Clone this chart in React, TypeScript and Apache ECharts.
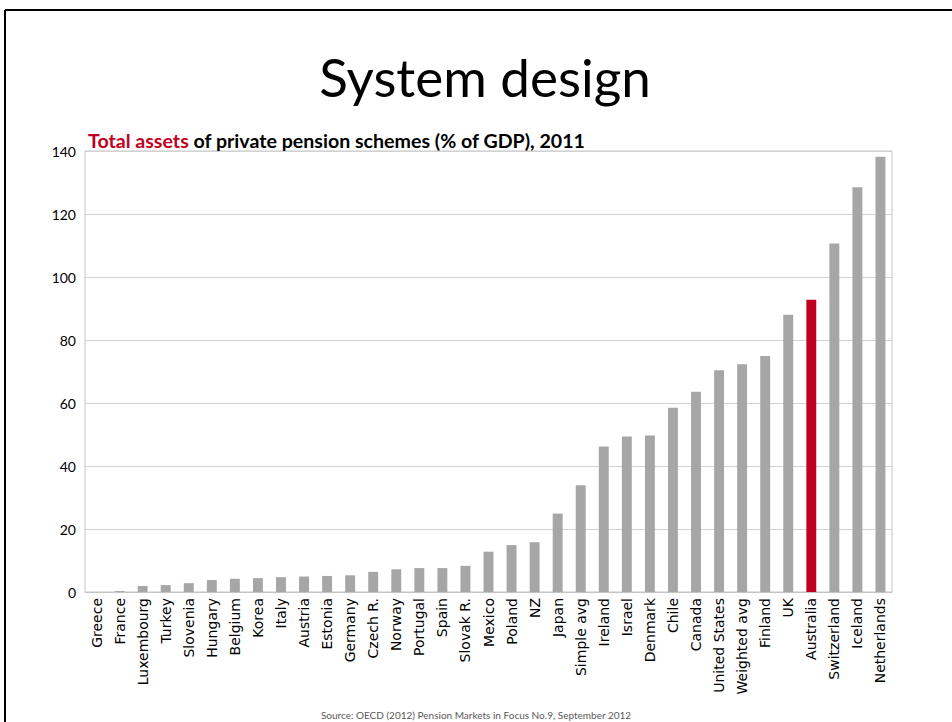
import React, { useEffect, useRef } from "react";
import * as echarts from "echarts";

const categories = [
  "Greece", "France", "Luxembourg", "Turkey", "Slovenia", "Hungary", "Belgium", "Korea",
  "Italy", "Austria", "Estonia", "Germany", "Czech R.", "Norway", "Portugal", "Spain",
  "Slovak R.", "Mexico", "Poland", "NZ", "Japan", "Simple avg", "Ireland", "Israel",
  "Denmark", "Chile", "Canada", "United States", "Weighted avg", "Finland", "UK",
  "Australia", "Switzerland", "Iceland", "Netherlands",
];

const values = [
  0.0, 0.3, 1.9, 2.2, 2.8, 3.8, 4.2, 4.4,
  4.7, 4.9, 5.1, 5.3, 6.4, 7.2, 7.6, 7.6,
  8.3, 12.8, 14.9, 15.8, 24.9, 33.9, 46.2, 49.4,
  49.7, 58.5, 63.6, 70.4, 72.3, 74.9, 88.0,
  92.8, 110.6, 128.5, 138.2,
];

const highlighted = ["Australia"];

const yTicks = { min: 0, max: 140, interval: 20 };

const titleText = "System design";
const subtitleRed = "Total assets";
const subtitleRest = " of private pension schemes (% of GDP), 2011";
const sourceText = "Source: OECD (2012) Pension Markets in Focus No.9, September 2012";

const GREY = "#a6a6a6";
const RED = "#c00020";

export default function App() {
  const ref = useRef<HTMLDivElement>(null);

  useEffect(() => {
    if (!ref.current) return;
    const chart = echarts.init(ref.current, undefined, { renderer: "svg" });
    const data = values.map((v, i) => ({
      value: v,
      itemStyle: { color: highlighted.includes(categories[i]) ? RED : GREY },
    }));
    chart.setOption({
      animation: false,
      backgroundColor: "#ffffff",
      grid: {
        left: 85,
        right: 60,
        top: 151,
        bottom: 130,
        show: true,
        borderColor: "#c4c4c4",
        borderWidth: 1,
        containLabel: false,
      },
      xAxis: {
        type: "category",
        data: categories,
        axisTick: { show: false },
        axisLine: { lineStyle: { color: "#c4c4c4", width: 1 } },
        axisLabel: {
          interval: 0,
          rotate: 90,
          margin: 6,
          fontFamily: "DejaVu Sans",
          fontSize: 14,
          color: "#000000",
        },
      },
      yAxis: {
        type: "value",
        min: yTicks.min,
        max: yTicks.max,
        interval: yTicks.interval,
        axisLine: { show: false },
        axisTick: { show: false },
        splitLine: { lineStyle: { color: "#d2d2d2", width: 1 } },
        axisLabel: {
          margin: 9,
          fontFamily: "Lato",
          fontSize: 14,
          color: "#000000",
        },
      },
      series: [
        {
          type: "bar",
          data,
          barWidth: "43%",
        },
      ],
      graphic: [
        {
          type: "line",
          shape: { x1: 5, y1: 10, x2: 952, y2: 10 },
          style: { stroke: "#000000", lineWidth: 2 },
        },
        {
          type: "line",
          shape: { x1: 5, y1: 10, x2: 5, y2: 722 },
          style: { stroke: "#000000", lineWidth: 2 },
        },
        {
          type: "text",
          x: 485,
          y: 76,
          style: {
            text: titleText,
            font: "53px Lato",
            fill: "#000000",
            textAlign: "center",
            textVerticalAlign: "middle",
          },
        },
        {
          type: "text",
          x: 88,
          y: 140,
          style: {
            text: `{r|${subtitleRed}}{b|${subtitleRest}}`,
            textVerticalAlign: "middle",
            rich: {
              r: { fontFamily: "Lato", fontWeight: "bold", fontSize: 19.6, fill: RED, color: RED },
              b: { fontFamily: "Lato", fontWeight: "bold", fontSize: 19.6, fill: "#000000", color: "#000000" },
            },
          },
        },
        {
          type: "text",
          x: 476,
          y: 715,
          style: {
            text: sourceText,
            font: "10px Lato",
            fill: "#595959",
            textAlign: "center",
            textVerticalAlign: "middle",
          },
        },
      ],
    });
    return () => chart.dispose();
  }, []);

  return (
    <div
      ref={ref}
      style={{ position: "fixed", left: 0, top: 0, width: 952, height: 722, background: "#fff" }}
    />
  );
}
